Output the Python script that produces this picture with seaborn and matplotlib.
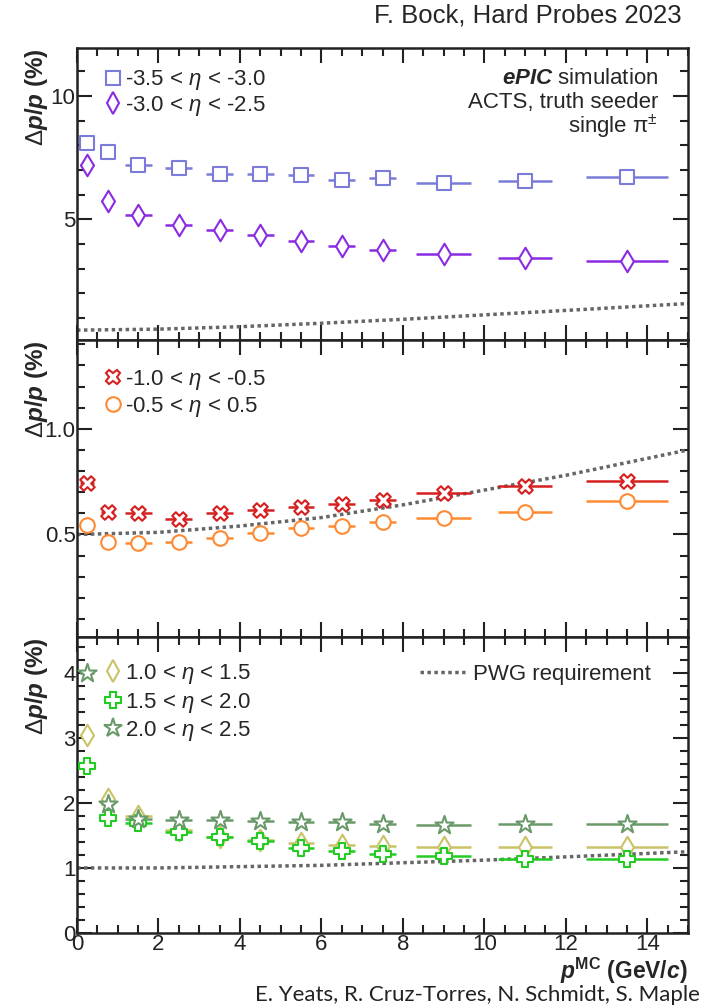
import numpy as np
import pandas as pd
import matplotlib
matplotlib.use("Agg")
import matplotlib.pyplot as plt
from matplotlib.lines import Line2D
from matplotlib.ticker import MultipleLocator, FormatStrFormatter
import seaborn as sns

# bin centres and half-length of the horizontal bars (GeV/c)
p_mc = [0.25, 0.75, 1.5, 2.5, 3.5, 4.5, 5.5, 6.5, 7.5, 9.0, 11.0, 13.5]
p_err = [0.17, 0.17, 0.33, 0.33, 0.33, 0.33, 0.33, 0.33, 0.33, 0.67, 0.67, 1.0]

res_m35_m30 = [8.10, 7.71, 7.22, 7.10, 6.82, 6.82, 6.79, 6.61, 6.68, 6.48, 6.56, 6.70]
res_m30_m25 = [7.22, 5.75, 5.18, 4.78, 4.57, 4.36, 4.10, 3.93, 3.75, 3.58, 3.42, 3.32]
res_m10_m05 = [0.743, 0.604, 0.600, 0.571, 0.600, 0.618, 0.630, 0.646, 0.662, 0.698, 0.728, 0.753]
res_m05_p05 = [0.544, 0.465, 0.462, 0.464, 0.483, 0.505, 0.530, 0.542, 0.558, 0.578, 0.608, 0.657]
res_10_15 = [3.05, 2.06, 1.80, 1.59, 1.48, 1.43, 1.38, 1.36, 1.33, 1.32, 1.32, 1.32]
res_15_20 = [2.56, 1.77, 1.69, 1.55, 1.47, 1.41, 1.31, 1.26, 1.22, 1.19, 1.14, 1.13]
res_20_25 = [4.00, 1.98, 1.75, 1.73, 1.73, 1.72, 1.71, 1.70, 1.68, 1.66, 1.67, 1.67]

# PWG requirement curve, read at a few momenta
pwg_p = [0, 2, 4, 6, 8, 10, 12, 15]
pwg_backward = [0.50, 0.54, 0.64, 0.78, 0.94, 1.12, 1.30, 1.58]
pwg_barrel = [0.50, 0.51, 0.54, 0.58, 0.64, 0.71, 0.78, 0.90]
pwg_forward = [1.00, 1.00, 1.02, 1.04, 1.08, 1.12, 1.17, 1.25]

sns.set_style("ticks")
plt.rcParams["font.family"] = ["Liberation Sans", "DejaVu Sans"]
plt.rcParams["mathtext.fontset"] = "custom"
plt.rcParams["mathtext.rm"] = "Liberation Sans"
plt.rcParams["mathtext.it"] = "Liberation Sans:italic"
plt.rcParams["mathtext.bf"] = "Liberation Sans:bold"
plt.rcParams["mathtext.bfit"] = "Liberation Sans:italic:bold"

FS = 16
PWG_COLOR = "#666666"

fig = plt.figure(figsize=(7.02, 10.06), dpi=100)
L, W = 77 / 702, 611 / 702
ax_top = fig.add_axes([L, 1 - 340 / 1006, W, 292 / 1006])
ax_mid = fig.add_axes([L, 1 - 637 / 1006, W, 297 / 1006])
ax_bot = fig.add_axes([L, 1 - 933 / 1006, W, 296 / 1006])


def draw_panel(ax, series, pwg_y, ylim, major, minor, fmt):
    sns.lineplot(x=pwg_p, y=pwg_y, ax=ax, color=PWG_COLOR, linestyle=(0, (1, 1)),
                 linewidth=2.5, zorder=1)
    for label, vals, marker, color, size in series:
        ax.errorbar(p_mc, vals, xerr=p_err, fmt="none", ecolor=color,
                    elinewidth=1.8, zorder=2)
        sns.scatterplot(x=p_mc, y=vals, ax=ax, marker=marker, s=size, color=color,
                        facecolor="white", edgecolor=color, linewidth=1.5, zorder=3)
    ax.set_xlim(0, 15)
    ax.set_ylim(*ylim)
    ax.xaxis.set_major_locator(MultipleLocator(2))
    ax.xaxis.set_minor_locator(MultipleLocator(0.5))
    ax.yaxis.set_major_locator(MultipleLocator(major))
    ax.yaxis.set_minor_locator(MultipleLocator(minor))
    ax.yaxis.set_major_formatter(FormatStrFormatter(fmt))
    ax.tick_params(which="both", direction="in", top=True, right=True, width=1.5,
                   labelsize=16, pad=1, colors="#222222")
    ax.tick_params(which="major", length=11)
    ax.tick_params(which="minor", length=6)
    for sp in ax.spines.values():
        sp.set_linewidth(1.8)
        sp.set_color("#222222")
    ax.set_xlabel("")
    ax.set_ylabel(r"$\Delta\mathbfit{p}$/$\mathbfit{p}$ (%)", fontsize=17.5,
                  fontweight="bold", ha="right")
    ax.yaxis.set_label_coords(-0.045, 1.0)
    handles = [Line2D([], [], marker=m, linestyle="none", markerfacecolor="white",
                      markeredgecolor=c, markeredgewidth=1.5, markersize=np.sqrt(s))
               for _, _, m, c, s in series]
    labels = [s[0] for s in series]
    return handles, labels


top_series = [
    (r"-3.5 < $\eta$ < -3.0", res_m35_m30, "s", "#7b7bd9", 90),
    (r"-3.0 < $\eta$ < -2.5", res_m30_m25, "d", "#8a2be2", 120),
]
mid_series = [
    (r"-1.0 < $\eta$ < -0.5", res_m10_m05, "X", "#d62020", 110),
    (r"-0.5 < $\eta$ < 0.5", res_m05_p05, "o", "#ff8a33", 110),
]
bot_series = [
    (r"1.0 < $\eta$ < 1.5", res_10_15, "d", "#c9c266", 120),
    (r"1.5 < $\eta$ < 2.0", res_15_20, "P", "#22cc22", 130),
    (r"2.0 < $\eta$ < 2.5", res_20_25, "*", "#6a9a6a", 190),
]

legend_kw = dict(loc="upper left", frameon=False, fontsize=FS, handletextpad=0.05,
                 handlelength=1.0, borderaxespad=0, borderpad=0)

h, l = draw_panel(ax_top, top_series, pwg_backward, (0.1, 11.95), 5, 1, "%d")
ax_top.legend(h, l, bbox_to_anchor=(0.04, 0.93), labelspacing=0.05, **legend_kw)
ax_top.tick_params(labelbottom=False)

h, l = draw_panel(ax_mid, mid_series, pwg_barrel, (0.015, 1.42), 0.5, 0.1, "%.1f")
ax_mid.legend(h, l, bbox_to_anchor=(0.04, 0.905), labelspacing=0.12, **legend_kw)
ax_mid.tick_params(labelbottom=False)

h, l = draw_panel(ax_bot, bot_series, pwg_forward, (0, 4.55), 1, 0.2, "%d")
leg = ax_bot.legend(h, l, bbox_to_anchor=(0.04, 0.915), labelspacing=0.2, **legend_kw)
ax_bot.add_artist(leg)
pwg_handle = Line2D([], [], color=PWG_COLOR, linestyle=(0, (1, 1)), linewidth=2.5)
ax_bot.legend([pwg_handle], ["PWG requirement"], loc="upper right",
              bbox_to_anchor=(0.94, 0.91), frameon=False, fontsize=FS,
              handlelength=2.0, handletextpad=0.4, borderaxespad=0, borderpad=0)
ax_bot.set_xlabel(r"$\mathbfit{p}^{\mathbf{MC}}$ (GeV/$\mathbfit{c}$)", fontsize=16.5,
                  fontweight="bold", ha="right")
ax_bot.xaxis.set_label_coords(1.0, -0.077)

# simulation tag
ax_top.text(0.951, 0.897, r"$\mathbfit{ePIC}$ simulation", transform=ax_top.transAxes,
            ha="right", va="center", fontsize=FS)
ax_top.text(0.951, 0.812, "ACTS, truth seeder", transform=ax_top.transAxes,
            ha="right", va="center", fontsize=FS)
ax_top.text(0.951, 0.729, r"single π$^{\pm}$", transform=ax_top.transAxes,
            ha="right", va="center", fontsize=FS)

fig.text(682 / 702, 1 - 15 / 1006, "F. Bock, Hard Probes 2023", ha="right",
         va="center", fontsize=18.5)
fig.text(700 / 702, 1 - 995 / 1006, "E. Yeats, R. Cruz-Torres, N. Schmidt, S. Maple",
         ha="right", va="center", fontsize=16, family="Lato", color="#222222")

fig.savefig("out.png", dpi=100)
